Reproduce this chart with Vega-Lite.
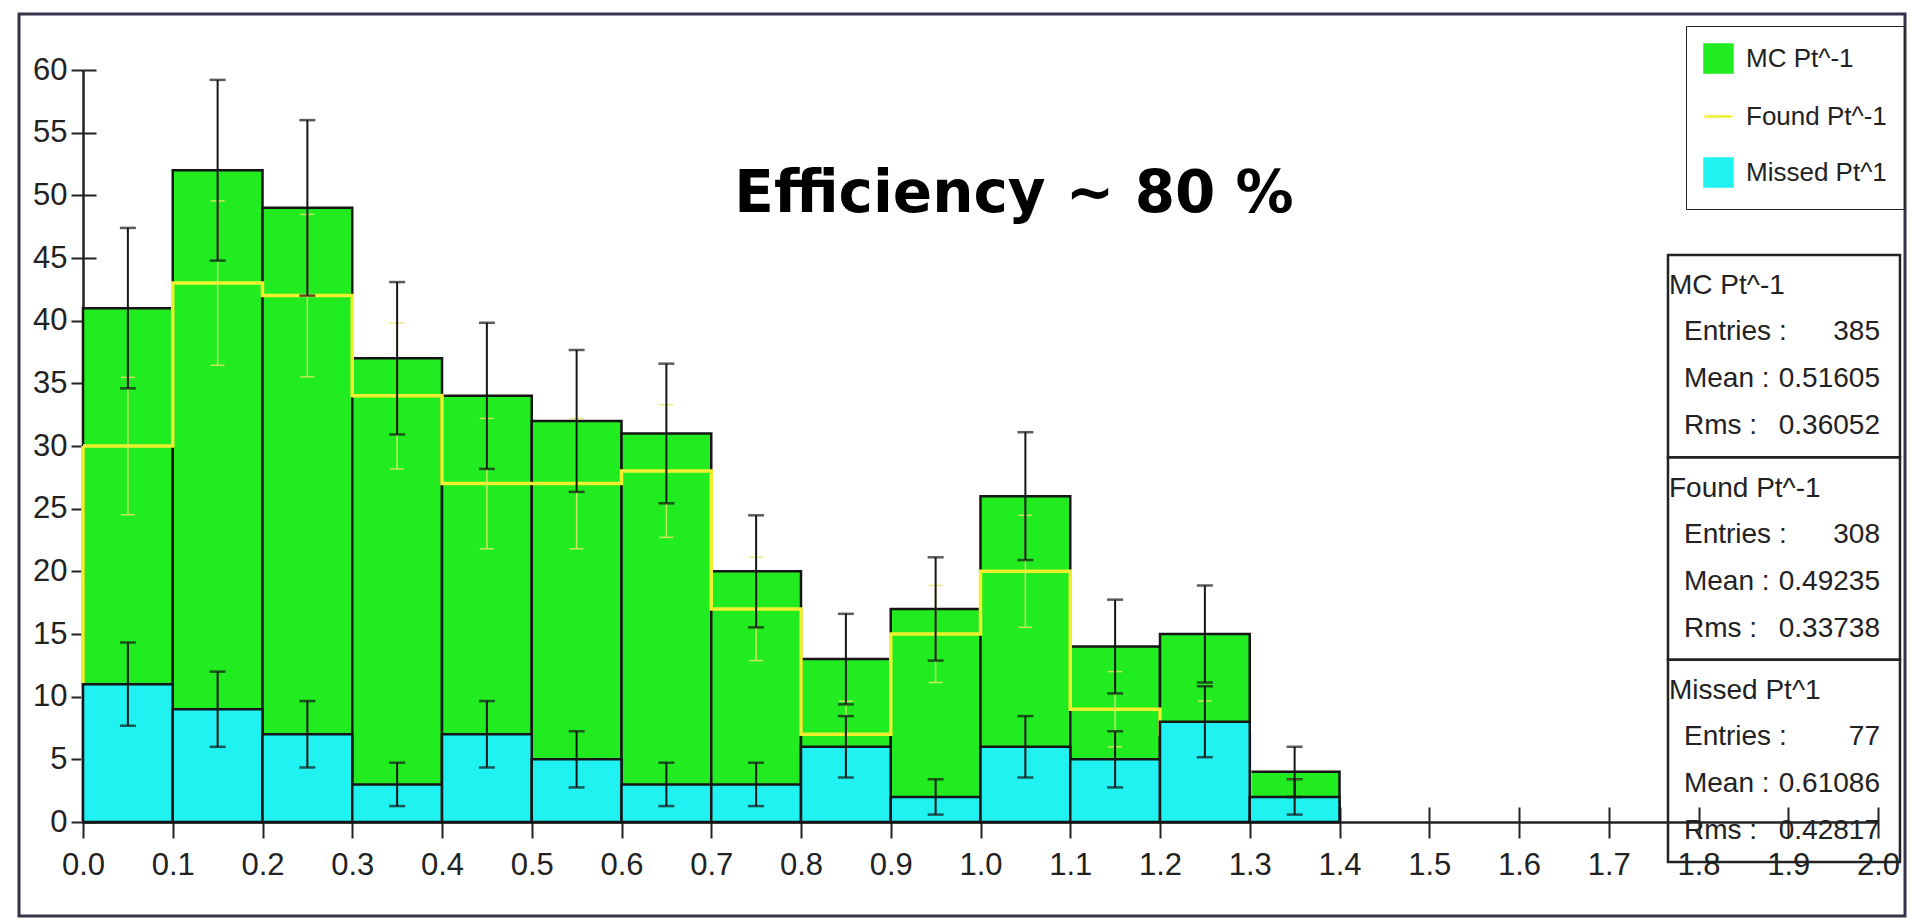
{
  "$schema": "https://vega.github.io/schema/vega-lite/v6.json",
  "width": 1795,
  "height": 752,
  "autosize": {"type": "none"},
  "padding": {"left": 83, "top": 70, "right": 34, "bottom": 100},
  "background": "white",
  "config": {
    "view": {"stroke": null},
    "axis": {"grid": false},
    "font": "'Liberation Sans', sans-serif"
  },
  "datasets": {
    "bins": [
      {"lo": 0.0, "hi": 0.1, "mid": 0.05, "mc": 41, "found": 30, "missed": 11, "mc_err": 6.40, "found_err": 5.48, "missed_err": 3.32},
      {"lo": 0.1, "hi": 0.2, "mid": 0.15, "mc": 52, "found": 43, "missed": 9, "mc_err": 7.21, "found_err": 6.56, "missed_err": 3.00},
      {"lo": 0.2, "hi": 0.3, "mid": 0.25, "mc": 49, "found": 42, "missed": 7, "mc_err": 7.00, "found_err": 6.48, "missed_err": 2.65},
      {"lo": 0.3, "hi": 0.4, "mid": 0.35, "mc": 37, "found": 34, "missed": 3, "mc_err": 6.08, "found_err": 5.83, "missed_err": 1.73},
      {"lo": 0.4, "hi": 0.5, "mid": 0.45, "mc": 34, "found": 27, "missed": 7, "mc_err": 5.83, "found_err": 5.20, "missed_err": 2.65},
      {"lo": 0.5, "hi": 0.6, "mid": 0.55, "mc": 32, "found": 27, "missed": 5, "mc_err": 5.66, "found_err": 5.20, "missed_err": 2.24},
      {"lo": 0.6, "hi": 0.7, "mid": 0.65, "mc": 31, "found": 28, "missed": 3, "mc_err": 5.57, "found_err": 5.29, "missed_err": 1.73},
      {"lo": 0.7, "hi": 0.8, "mid": 0.75, "mc": 20, "found": 17, "missed": 3, "mc_err": 4.47, "found_err": 4.12, "missed_err": 1.73},
      {"lo": 0.8, "hi": 0.9, "mid": 0.85, "mc": 13, "found": 7, "missed": 6, "mc_err": 3.61, "found_err": 2.65, "missed_err": 2.45},
      {"lo": 0.9, "hi": 1.0, "mid": 0.95, "mc": 17, "found": 15, "missed": 2, "mc_err": 4.12, "found_err": 3.87, "missed_err": 1.41},
      {"lo": 1.0, "hi": 1.1, "mid": 1.05, "mc": 26, "found": 20, "missed": 6, "mc_err": 5.10, "found_err": 4.47, "missed_err": 2.45},
      {"lo": 1.1, "hi": 1.2, "mid": 1.15, "mc": 14, "found": 9, "missed": 5, "mc_err": 3.74, "found_err": 3.00, "missed_err": 2.24},
      {"lo": 1.2, "hi": 1.3, "mid": 1.25, "mc": 15, "found": 7, "missed": 8, "mc_err": 3.87, "found_err": 2.65, "missed_err": 2.83},
      {"lo": 1.3, "hi": 1.4, "mid": 1.35, "mc": 4, "found": 2, "missed": 2, "mc_err": 2.00, "found_err": 1.41, "missed_err": 1.41}
    ],
    "stats": [
      {"hist": "MC Pt^-1", "entries": 385, "mean": 0.51605, "rms": 0.36052},
      {"hist": "Found Pt^-1", "entries": 308, "mean": 0.49235, "rms": 0.33738},
      {"hist": "Missed Pt^1", "entries": 77, "mean": 0.61086, "rms": 0.42817}
    ]
  },
  "resolve": {
    "scale": {"y": "independent"},
    "axis": {"x": "independent", "y": "independent"}
  },
  "layer": [
    {
      "data": {"name": "bins"},
      "resolve": {"axis": {"x": "independent", "y": "independent"}},
      "layer": [
        {
          "data": {"values": [{}]},
          "mark": {"type": "rect", "fillOpacity": 0, "stroke": "#34344a", "strokeWidth": 3},
          "encoding": {
            "x": {"datum": -0.0713, "type": "quantitative", "axis": null},
            "x2": {"datum": 2.0301},
            "y": {"datum": 64.47, "type": "quantitative", "axis": null},
            "y2": {"datum": -7.5}
          }
        },
        {
          "mark": {"type": "rect", "stroke": "#151515", "strokeWidth": 2.5},
          "encoding": {
            "x": {
              "field": "lo", "type": "quantitative",
              "scale": {"domain": [0, 2], "nice": false, "zero": false},
              "axis": {
                "orient": "bottom", "title": null,
                "values": [0, 0.1, 0.2, 0.3, 0.4, 0.5, 0.6, 0.7, 0.8, 0.9, 1.0, 1.1, 1.2, 1.3, 1.4, 1.5, 1.6, 1.7, 1.8, 1.9, 2.0],
                "format": ".1f", "labelFontSize": 31, "labelColor": "#222", "labelPadding": 12,
                "labelFlush": false, "labelOverlap": false,
                "tickSize": 16, "tickWidth": 2, "tickColor": "#222",
                "domainColor": "#222", "domainWidth": 2.5
              }
            },
            "x2": {"field": "hi"},
            "y": {
              "field": "mc", "type": "quantitative",
              "scale": {"domain": [0, 60], "nice": false},
              "axis": {
                "orient": "left", "title": null,
                "values": [0, 5, 10, 15, 20, 25, 30, 35, 40, 45, 50, 55, 60],
                "labelFontSize": 31, "labelColor": "#222", "labelPadding": 4,
                "tickSize": 12, "tickWidth": 2, "tickColor": "#222",
                "domainColor": "#222", "domainWidth": 2.5
              }
            },
            "y2": {"datum": 0},
            "color": {
              "datum": "MC Pt^-1", "type": "nominal",
              "scale": {
                "domain": ["MC Pt^-1", "Found Pt^-1", "Missed Pt^1"],
                "range": ["#20ec20", "#f0f030", "#20f2f2"]
              },
              "legend": {
                "orient": "none", "legendX": 1603, "legendY": -44,
                "title": null, "strokeColor": "#222", "padding": 17,
                "labelFontSize": 26, "labelColor": "#222", "labelOffset": 12, "labelLimit": 400,
                "symbolSize": 784, "symbolType": "square",
                "symbolStrokeWidth": 2, "symbolStrokeColor": "#1a1a1a",
                "rowPadding": 23,
                "encode": {
                  "symbols": {
                    "update": {
                      "shape": {"signal": "datum.value === 'Found Pt^-1' ? 'stroke' : 'square'"},
                      "stroke": {"signal": "datum.value === 'Found Pt^-1' ? '#b8a840' : '#1a1a1a'"},
                      "strokeWidth": {"value": 2.5}
                    }
                  }
                }
              }
            }
          }
        },
        {
          "mark": {"type": "line", "interpolate": "step-after", "strokeWidth": 3.5},
          "encoding": {
            "x": {"field": "lo", "type": "quantitative", "axis": null},
            "y": {"field": "found", "type": "quantitative", "axis": null},
            "color": {"datum": "Found Pt^-1", "type": "nominal"}
          }
        },
        {
          "transform": [{"filter": "datum.lo === 0"}],
          "mark": {"type": "rule", "color": "#f0f030", "strokeWidth": 3.5},
          "encoding": {
            "x": {"field": "lo", "type": "quantitative", "axis": null},
            "y": {"field": "found", "type": "quantitative", "axis": null},
            "y2": {"datum": 0}
          }
        },
        {
          "mark": {
            "type": "errorbar", "color": "#e6e66a", "opacity": 0.85,
            "ticks": {"size": 14, "thickness": 1.5},
            "rule": {"strokeWidth": 1.5}
          },
          "encoding": {
            "x": {"field": "mid", "type": "quantitative", "axis": null},
            "y": {"field": "found", "type": "quantitative", "axis": null},
            "yError": {"field": "found_err"}
          }
        },
        {
          "mark": {"type": "rect", "stroke": "#151515", "strokeWidth": 2.5},
          "encoding": {
            "x": {
              "field": "lo", "type": "quantitative",
              "axis": {
                "orient": "bottom", "title": null, "labels": false, "domain": false,
                "values": [0, 0.1, 0.2, 0.3, 0.4, 0.5, 0.6, 0.7, 0.8, 0.9, 1.0, 1.1, 1.2, 1.3, 1.4, 1.5, 1.6, 1.7, 1.8, 1.9, 2.0],
                "tickSize": -15, "tickWidth": 2, "tickColor": "#222"
              }
            },
            "x2": {"field": "hi"},
            "y": {
              "field": "missed", "type": "quantitative",
              "axis": {
                "orient": "left", "title": null, "labels": false, "domain": false,
                "values": [0, 5, 10, 15, 20, 25, 30, 35, 40, 45, 50, 55, 60],
                "tickSize": -13, "tickWidth": 2, "tickColor": "#222"
              }
            },
            "y2": {"datum": 0},
            "color": {"datum": "Missed Pt^1", "type": "nominal"}
          }
        },
        {
          "mark": {
            "type": "errorbar", "color": "#151515",
            "ticks": {"size": 16, "thickness": 2.5},
            "rule": {"strokeWidth": 2}
          },
          "encoding": {
            "x": {"field": "mid", "type": "quantitative", "axis": null},
            "y": {"field": "mc", "type": "quantitative", "axis": null},
            "yError": {"field": "mc_err"}
          }
        },
        {
          "mark": {
            "type": "errorbar", "color": "#151515",
            "ticks": {"size": 16, "thickness": 2.5},
            "rule": {"strokeWidth": 2}
          },
          "encoding": {
            "x": {"field": "mid", "type": "quantitative", "axis": null},
            "y": {"field": "missed", "type": "quantitative", "axis": null},
            "yError": {"field": "missed_err"}
          }
        },
        {
          "data": {"values": [{}]},
          "mark": {
            "type": "text", "text": "Efficiency ~ 80 %",
            "font": "DejaVu Sans", "fontWeight": "bold", "fontSize": 58,
            "align": "center", "baseline": "alphabetic", "color": "#000"
          },
          "encoding": {
            "x": {"datum": 1.0373, "type": "quantitative", "axis": null},
            "y": {"datum": 48.67, "type": "quantitative", "axis": null}
          }
        }
      ]
    },
    {
      "data": {"name": "stats"},
      "encoding": {
        "y": {
          "field": "hist", "type": "nominal",
          "scale": {
            "type": "band", "domain": ["MC Pt^-1", "Found Pt^-1", "Missed Pt^1"],
            "range": [185, 792], "paddingInner": 0, "paddingOuter": 0
          },
          "axis": null
        }
      },
      "layer": [
        {
          "mark": {"type": "rect", "fillOpacity": 0, "stroke": "#222", "strokeWidth": 2.5},
          "encoding": {
            "x": {"datum": 1.766, "type": "quantitative", "axis": null},
            "x2": {"datum": 2.0245}
          }
        },
        {
          "mark": {"type": "text", "align": "left", "baseline": "middle", "fontSize": 28, "color": "#222", "dy": -70},
          "encoding": {
            "x": {"datum": 1.7671, "type": "quantitative", "axis": null},
            "text": {"field": "hist"}
          }
        },
        {
          "mark": {"type": "text", "text": "Entries :", "align": "left", "baseline": "middle", "fontSize": 28, "color": "#222", "dy": -24},
          "encoding": {"x": {"datum": 1.7838, "type": "quantitative", "axis": null}}
        },
        {
          "mark": {"type": "text", "text": "Mean :", "align": "left", "baseline": "middle", "fontSize": 28, "color": "#222", "dy": 23},
          "encoding": {"x": {"datum": 1.7838, "type": "quantitative", "axis": null}}
        },
        {
          "mark": {"type": "text", "text": "Rms :", "align": "left", "baseline": "middle", "fontSize": 28, "color": "#222", "dy": 70},
          "encoding": {"x": {"datum": 1.7838, "type": "quantitative", "axis": null}}
        },
        {
          "mark": {"type": "text", "align": "right", "baseline": "middle", "fontSize": 28, "color": "#222", "dy": -24},
          "encoding": {
            "x": {"datum": 2.0022, "type": "quantitative", "axis": null},
            "text": {"field": "entries", "type": "quantitative", "format": "d"}
          }
        },
        {
          "mark": {"type": "text", "align": "right", "baseline": "middle", "fontSize": 28, "color": "#222", "dy": 23},
          "encoding": {
            "x": {"datum": 2.0022, "type": "quantitative", "axis": null},
            "text": {"field": "mean", "type": "quantitative", "format": ".5f"}
          }
        },
        {
          "mark": {"type": "text", "align": "right", "baseline": "middle", "fontSize": 28, "color": "#222", "dy": 70},
          "encoding": {
            "x": {"datum": 2.0022, "type": "quantitative", "axis": null},
            "text": {"field": "rms", "type": "quantitative", "format": ".5f"}
          }
        }
      ]
    }
  ]
}
